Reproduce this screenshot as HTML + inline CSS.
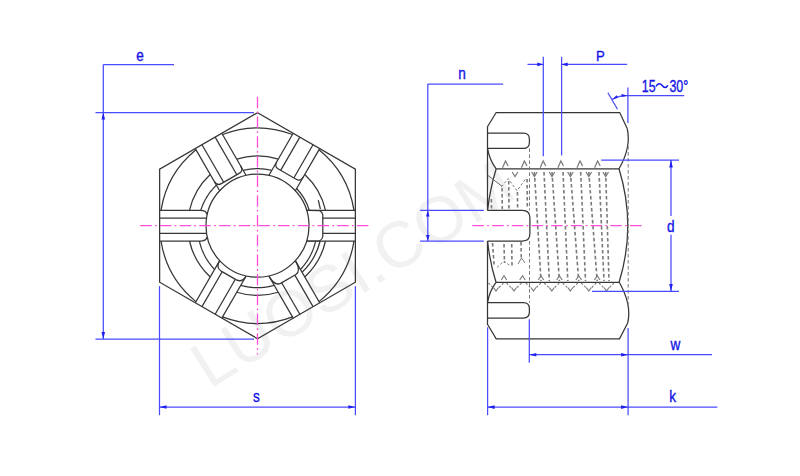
<!DOCTYPE html>
<html><head><meta charset="utf-8"><style>html,body{margin:0;padding:0;background:#fff;width:800px;height:476px;overflow:hidden}svg{display:block}</style></head>
<body><svg width="800" height="476" viewBox="0 0 800 476">
<rect width="800" height="476" fill="#fff"/>
<text x="0" y="0" transform="translate(209.5,389.5) rotate(-32)" font-family="Liberation Sans, sans-serif" font-size="65" fill="#f1f1f1">LUOSI.COM</text>
<path d="M257.50,112.70 L159.64,169.20 L159.64,282.20 L257.50,338.70 L355.36,282.20 L355.36,169.20 Z" stroke="#363636" stroke-width="1.25" fill="none"/>
<path d="M353.99,210.40 A97.70,97.70 0 0 0 319.00,149.78" stroke="#363636" stroke-width="1.25" fill="none" />
<path d="M292.50,134.48 A97.70,97.70 0 0 0 222.50,134.48" stroke="#363636" stroke-width="1.25" fill="none" />
<path d="M196.00,149.78 A97.70,97.70 0 0 0 161.01,210.40" stroke="#363636" stroke-width="1.25" fill="none" />
<path d="M161.01,241.00 A97.70,97.70 0 0 0 196.00,301.62" stroke="#363636" stroke-width="1.25" fill="none" />
<path d="M222.50,316.92 A97.70,97.70 0 0 0 292.50,316.92" stroke="#363636" stroke-width="1.25" fill="none" />
<path d="M319.00,301.62 A97.70,97.70 0 0 0 353.99,241.00" stroke="#363636" stroke-width="1.25" fill="none" />
<circle cx="257.5" cy="225.7" r="51.5" stroke="#363636" stroke-width="1.25" fill="none"/>
<path d="M325.50,210.40 A69.70,69.70 0 0 0 304.75,174.46" stroke="#363636" stroke-width="1.25" fill="none" />
<path d="M278.25,159.16 A69.70,69.70 0 0 0 236.75,159.16" stroke="#363636" stroke-width="1.25" fill="none" />
<path d="M210.25,174.46 A69.70,69.70 0 0 0 189.50,210.40" stroke="#363636" stroke-width="1.25" fill="none" />
<path d="M189.50,241.00 A69.70,69.70 0 0 0 210.25,276.94" stroke="#363636" stroke-width="1.25" fill="none" />
<path d="M236.75,292.24 A69.70,69.70 0 0 0 278.25,292.24" stroke="#363636" stroke-width="1.25" fill="none" />
<path d="M304.75,276.94 A69.70,69.70 0 0 0 325.50,241.00" stroke="#363636" stroke-width="1.25" fill="none" />
<path d="M271.69,170.42 L271.39,170.34 L271.09,170.27 L270.78,170.20 L270.48,170.13 L270.18,170.07 L269.87,170.00 L269.57,169.94 L269.26,169.87 L268.96,169.81 L268.65,169.75 L268.34,169.70 L268.04,169.64 L267.73,169.59 L267.42,169.53 L267.12,169.48 L266.81,169.43 L266.50,169.38 L266.19,169.34 L265.88,169.29 L265.58,169.25 L265.27,169.21 L264.96,169.17 L264.65,169.13 L264.34,169.09 L264.03,169.06 L263.72,169.03 L263.41,168.99 L263.10,168.96 L262.79,168.94 L262.48,168.91 L262.17,168.88 L261.86,168.86 L261.55,168.84 L261.24,168.82 L260.93,168.80 L260.61,168.78 L260.30,168.77 L259.99,168.75 L259.68,168.74 L259.37,168.73 L259.06,168.72 L258.75,168.71 L258.43,168.71 L258.12,168.70 L257.81,168.70 L257.50,168.70 L257.19,168.70 L256.88,168.70 L256.57,168.71 L256.25,168.71 L255.94,168.72 L255.63,168.73 L255.32,168.74 L255.01,168.75 L254.70,168.77 L254.39,168.78 L254.07,168.80 L253.76,168.82 L253.45,168.84 L253.14,168.86 L252.83,168.88 L252.52,168.91 L252.21,168.94 L251.90,168.96 L251.59,168.99 L251.28,169.03 L250.97,169.06 L250.66,169.09 L250.35,169.13 L250.04,169.17 L249.73,169.21 L249.42,169.25 L249.12,169.29 L248.81,169.34 L248.50,169.38 L248.19,169.43 L247.88,169.48 L247.58,169.53 L247.27,169.59 L246.96,169.64 L246.66,169.70 L246.35,169.75 L246.04,169.81 L245.74,169.87 L245.43,169.94 L245.13,170.00 L244.82,170.07 L244.52,170.13 L244.22,170.20 L243.91,170.27 L243.61,170.34 L243.31,170.42" stroke="#363636" stroke-width="1.25" fill="none" />
<path d="M216.32,185.26 L216.09,185.47 L215.87,185.69 L215.65,185.91 L215.43,186.13 L215.21,186.35 L214.99,186.57 L214.77,186.79 L214.56,187.02 L214.34,187.24 L214.13,187.47 L213.91,187.70 L213.70,187.93 L213.49,188.16 L213.28,188.39 L213.08,188.62 L212.87,188.85 L212.66,189.09 L212.46,189.32 L212.26,189.56 L212.05,189.80 L211.85,190.03 L211.65,190.27 L211.46,190.51 L211.26,190.76 L211.06,191.00 L210.87,191.24 L210.68,191.49 L210.49,191.73 L210.30,191.98 L210.11,192.23 L209.92,192.47 L209.73,192.72 L209.55,192.98 L209.36,193.23 L209.18,193.48 L209.00,193.73 L208.82,193.99 L208.64,194.24 L208.46,194.50 L208.29,194.76 L208.11,195.01 L207.94,195.27 L207.77,195.53 L207.60,195.79 L207.43,196.06 L207.26,196.32 L207.10,196.58 L206.93,196.85 L206.77,197.11 L206.61,197.38 L206.45,197.64 L206.29,197.91 L206.13,198.18 L205.97,198.45 L205.82,198.72 L205.66,198.99 L205.51,199.26 L205.36,199.54 L205.21,199.81 L205.06,200.08 L204.92,200.36 L204.77,200.63 L204.63,200.91 L204.49,201.19 L204.34,201.47 L204.21,201.74 L204.07,202.02 L203.93,202.30 L203.80,202.58 L203.66,202.87 L203.53,203.15 L203.40,203.43 L203.27,203.71 L203.14,204.00 L203.02,204.28 L202.89,204.57 L202.77,204.86 L202.65,205.14 L202.53,205.43 L202.41,205.72 L202.29,206.01 L202.18,206.30 L202.06,206.59 L201.95,206.88 L201.84,207.17 L201.73,207.46 L201.62,207.75 L201.52,208.05 L201.41,208.34 L201.31,208.63 L201.21,208.93 L201.11,209.22 L201.01,209.52 L200.91,209.81 L200.82,210.11" stroke="#363636" stroke-width="1.25" fill="none" />
<path d="M199.43,241.18 L199.50,241.48 L199.57,241.79 L199.64,242.09 L199.72,242.39 L199.79,242.70 L199.87,243.00 L199.95,243.30 L200.03,243.60 L200.11,243.90 L200.19,244.20 L200.28,244.50 L200.36,244.80 L200.45,245.10 L200.54,245.40 L200.63,245.70 L200.72,245.99 L200.82,246.29 L200.91,246.59 L201.01,246.88 L201.11,247.18 L201.21,247.47 L201.31,247.77 L201.41,248.06 L201.52,248.35 L201.62,248.65 L201.73,248.94 L201.84,249.23 L201.95,249.52 L202.06,249.81 L202.18,250.10 L202.29,250.39 L202.41,250.68 L202.53,250.97 L202.65,251.26 L202.77,251.54 L202.89,251.83 L203.02,252.12 L203.14,252.40 L203.27,252.69 L203.40,252.97 L203.53,253.25 L203.66,253.53 L203.80,253.82 L203.93,254.10 L204.07,254.38 L204.21,254.66 L204.34,254.93 L204.49,255.21 L204.63,255.49 L204.77,255.77 L204.92,256.04 L205.06,256.32 L205.21,256.59 L205.36,256.86 L205.51,257.14 L205.66,257.41 L205.82,257.68 L205.97,257.95 L206.13,258.22 L206.29,258.49 L206.45,258.76 L206.61,259.02 L206.77,259.29 L206.93,259.55 L207.10,259.82 L207.26,260.08 L207.43,260.34 L207.60,260.61 L207.77,260.87 L207.94,261.13 L208.11,261.39 L208.29,261.64 L208.46,261.90 L208.64,262.16 L208.82,262.41 L209.00,262.67 L209.18,262.92 L209.36,263.17 L209.55,263.42 L209.73,263.68 L209.92,263.93 L210.11,264.17 L210.30,264.42 L210.49,264.67 L210.68,264.91 L210.87,265.16 L211.06,265.40 L211.26,265.64 L211.46,265.89 L211.65,266.13 L211.85,266.37 L212.05,266.60 L212.26,266.84 L212.46,267.08 L212.66,267.31 L212.87,267.55 L213.08,267.78 L213.28,268.01 L213.49,268.24 L213.70,268.47 L213.91,268.70 L214.13,268.93 L214.34,269.16 L214.56,269.38" stroke="#363636" stroke-width="1.25" fill="none" />
<path d="M240.90,285.34 L241.20,285.42 L241.50,285.51 L241.80,285.59 L242.10,285.67 L242.40,285.75 L242.70,285.83 L243.00,285.91 L243.31,285.98 L243.61,286.06 L243.91,286.13 L244.22,286.20 L244.52,286.27 L244.82,286.33 L245.13,286.40 L245.43,286.46 L245.74,286.53 L246.04,286.59 L246.35,286.65 L246.66,286.70 L246.96,286.76 L247.27,286.81 L247.58,286.87 L247.88,286.92 L248.19,286.97 L248.50,287.02 L248.81,287.06 L249.12,287.11 L249.42,287.15 L249.73,287.19 L250.04,287.23 L250.35,287.27 L250.66,287.31 L250.97,287.34 L251.28,287.37 L251.59,287.41 L251.90,287.44 L252.21,287.46 L252.52,287.49 L252.83,287.52 L253.14,287.54 L253.45,287.56 L253.76,287.58 L254.07,287.60 L254.39,287.62 L254.70,287.63 L255.01,287.65 L255.32,287.66 L255.63,287.67 L255.94,287.68 L256.25,287.69 L256.57,287.69 L256.88,287.70 L257.19,287.70 L257.50,287.70 L257.81,287.70 L258.12,287.70 L258.43,287.69 L258.75,287.69 L259.06,287.68 L259.37,287.67 L259.68,287.66 L259.99,287.65 L260.30,287.63 L260.61,287.62 L260.93,287.60 L261.24,287.58 L261.55,287.56 L261.86,287.54 L262.17,287.52 L262.48,287.49 L262.79,287.46 L263.10,287.44 L263.41,287.41 L263.72,287.37 L264.03,287.34 L264.34,287.31 L264.65,287.27 L264.96,287.23 L265.27,287.19 L265.58,287.15 L265.88,287.11 L266.19,287.06 L266.50,287.02 L266.81,286.97 L267.12,286.92 L267.42,286.87 L267.73,286.81 L268.04,286.76 L268.34,286.70 L268.65,286.65 L268.96,286.59 L269.26,286.53 L269.57,286.46 L269.87,286.40 L270.18,286.33 L270.48,286.27 L270.78,286.20 L271.09,286.13 L271.39,286.06 L271.69,285.98 L272.00,285.91 L272.30,285.83 L272.60,285.75 L272.90,285.67 L273.20,285.59 L273.50,285.51 L273.80,285.42 L274.10,285.34" stroke="#363636" stroke-width="1.25" fill="none" />
<path d="M300.44,269.38 L300.66,269.16 L300.87,268.93 L301.09,268.70 L301.30,268.47 L301.51,268.24 L301.72,268.01 L301.92,267.78 L302.13,267.55 L302.34,267.31 L302.54,267.08 L302.74,266.84 L302.95,266.60 L303.15,266.37 L303.35,266.13 L303.54,265.89 L303.74,265.64 L303.94,265.40 L304.13,265.16 L304.32,264.91 L304.51,264.67 L304.70,264.42 L304.89,264.17 L305.08,263.93 L305.27,263.68 L305.45,263.42 L305.64,263.17 L305.82,262.92 L306.00,262.67 L306.18,262.41 L306.36,262.16 L306.54,261.90 L306.71,261.64 L306.89,261.39 L307.06,261.13 L307.23,260.87 L307.40,260.61 L307.57,260.34 L307.74,260.08 L307.90,259.82 L308.07,259.55 L308.23,259.29 L308.39,259.02 L308.55,258.76 L308.71,258.49 L308.87,258.22 L309.03,257.95 L309.18,257.68 L309.34,257.41 L309.49,257.14 L309.64,256.86 L309.79,256.59 L309.94,256.32 L310.08,256.04 L310.23,255.77 L310.37,255.49 L310.51,255.21 L310.66,254.93 L310.79,254.66 L310.93,254.38 L311.07,254.10 L311.20,253.82 L311.34,253.53 L311.47,253.25 L311.60,252.97 L311.73,252.69 L311.86,252.40 L311.98,252.12 L312.11,251.83 L312.23,251.54 L312.35,251.26 L312.47,250.97 L312.59,250.68 L312.71,250.39 L312.82,250.10 L312.94,249.81 L313.05,249.52 L313.16,249.23 L313.27,248.94 L313.38,248.65 L313.48,248.35 L313.59,248.06 L313.69,247.77 L313.79,247.47 L313.89,247.18 L313.99,246.88 L314.09,246.59 L314.18,246.29 L314.28,245.99 L314.37,245.70 L314.46,245.40 L314.55,245.10 L314.64,244.80 L314.72,244.50 L314.81,244.20 L314.89,243.90 L314.97,243.60 L315.05,243.30 L315.13,243.00 L315.21,242.70 L315.28,242.39 L315.36,242.09 L315.43,241.79 L315.50,241.48 L315.57,241.18" stroke="#363636" stroke-width="1.25" fill="none" />
<path d="M309.29,210.40 A54.00,54.00 0 0 0 296.64,188.50" stroke="#363636" stroke-width="1.25" fill="none" />
<path d="M302.08,272.31 A64.50,64.50 0 0 0 320.16,241.00" stroke="#363636" stroke-width="1.25" fill="none" />
<line x1="318.30" y1="200.20" x2="320.40" y2="209.10" stroke="#363636" stroke-width="1.25" />
<line x1="221.82" y1="318.10" x2="246.16" y2="275.94" stroke="#363636" stroke-width="1.25" />
<line x1="195.32" y1="302.80" x2="219.66" y2="260.64" stroke="#363636" stroke-width="1.25" />
<line x1="215.15" y1="314.25" x2="235.33" y2="279.30" stroke="#363636" stroke-width="1.25" />
<line x1="201.99" y1="306.65" x2="222.17" y2="271.70" stroke="#363636" stroke-width="1.25" />
<path d="M245.91,276.37 Q242.25,282.71 236.37,279.90 L221.13,271.10 Q215.75,267.41 219.41,261.07" stroke="#363636" stroke-width="1.25" fill="none" />
<line x1="319.68" y1="302.80" x2="295.34" y2="260.64" stroke="#363636" stroke-width="1.25" />
<line x1="293.18" y1="318.10" x2="268.84" y2="275.94" stroke="#363636" stroke-width="1.25" />
<line x1="313.01" y1="306.65" x2="294.83" y2="275.16" stroke="#363636" stroke-width="1.25" />
<line x1="299.85" y1="314.25" x2="281.67" y2="282.76" stroke="#363636" stroke-width="1.25" />
<path d="M295.59,261.07 Q301.25,270.88 295.87,274.56 L280.63,283.36 Q274.75,286.18 269.09,276.37" stroke="#363636" stroke-width="1.25" fill="none" />
<line x1="293.18" y1="133.30" x2="268.84" y2="175.46" stroke="#363636" stroke-width="1.25" />
<line x1="319.68" y1="148.60" x2="295.34" y2="190.76" stroke="#363636" stroke-width="1.25" />
<line x1="299.85" y1="137.15" x2="280.67" y2="170.37" stroke="#363636" stroke-width="1.25" />
<line x1="313.01" y1="144.75" x2="293.83" y2="177.97" stroke="#363636" stroke-width="1.25" />
<path d="M276.75,161.76 Q274.00,166.52 278.33,169.02 L296.17,179.32 Q300.50,181.82 303.25,177.06" stroke="#363636" stroke-width="1.25" fill="none" />
<line x1="195.32" y1="148.60" x2="219.66" y2="190.76" stroke="#363636" stroke-width="1.25" />
<line x1="221.82" y1="133.30" x2="246.16" y2="175.46" stroke="#363636" stroke-width="1.25" />
<line x1="201.99" y1="144.75" x2="223.67" y2="182.30" stroke="#363636" stroke-width="1.25" />
<line x1="215.15" y1="137.15" x2="236.83" y2="174.70" stroke="#363636" stroke-width="1.25" />
<path d="M214.25,181.39 Q217.00,186.15 221.33,183.65 L239.17,173.35 Q243.50,170.85 240.75,166.09" stroke="#363636" stroke-width="1.25" fill="none" />
<line x1="159.64" y1="241.00" x2="200.00" y2="241.00" stroke="#363636" stroke-width="1.25" />
<path d="M200.00,241.00 Q206.26,241.00 206.96,237.02" stroke="#363636" stroke-width="1.25" fill="none" />
<line x1="159.64" y1="210.40" x2="200.00" y2="210.40" stroke="#363636" stroke-width="1.25" />
<path d="M200.00,210.40 Q206.26,210.40 206.96,214.38" stroke="#363636" stroke-width="1.25" fill="none" />
<line x1="159.64" y1="233.30" x2="206.56" y2="233.30" stroke="#363636" stroke-width="1.25" />
<line x1="159.64" y1="218.10" x2="206.56" y2="218.10" stroke="#363636" stroke-width="1.25" />
<line x1="355.36" y1="210.40" x2="306.67" y2="210.40" stroke="#363636" stroke-width="1.25" />
<line x1="355.36" y1="241.00" x2="306.67" y2="241.00" stroke="#363636" stroke-width="1.25" />
<line x1="355.36" y1="218.10" x2="322.80" y2="218.10" stroke="#363636" stroke-width="1.25" />
<line x1="355.36" y1="233.30" x2="322.80" y2="233.30" stroke="#363636" stroke-width="1.25" />
<path d="M306.67,210.40 L319.70,210.60 Q322.30,211.90 322.80,214.90 L322.80,236.50 Q322.30,239.50 319.70,240.80 L306.67,241.00" stroke="#363636" stroke-width="1.25" fill="none" />
<line x1="140.20" y1="225.70" x2="370.00" y2="225.70" stroke="#ff4fd8" stroke-width="1.3" stroke-dasharray="11.5,3.2,1.8,3.2"/>
<line x1="257.50" y1="96.80" x2="257.50" y2="354.50" stroke="#ff4fd8" stroke-width="1.3" stroke-dasharray="11.5,3.2,1.8,3.2"/>
<line x1="103.30" y1="64.60" x2="174.00" y2="64.60" stroke="#4a4aff" stroke-width="1.25" />
<line x1="103.30" y1="64.60" x2="103.30" y2="339.00" stroke="#4a4aff" stroke-width="1.25" />
<line x1="95.50" y1="112.50" x2="254.00" y2="112.50" stroke="#4a4aff" stroke-width="1.25" />
<line x1="95.50" y1="339.00" x2="254.00" y2="339.00" stroke="#4a4aff" stroke-width="1.25" />
<path d="M103.30,112.50 L105.10,119.50 L101.50,119.50 Z" fill="#2020f0"/>
<path d="M103.30,339.00 L101.50,332.00 L105.10,332.00 Z" fill="#2020f0"/>
<line x1="159.50" y1="286.10" x2="159.50" y2="415.20" stroke="#4a4aff" stroke-width="1.25" />
<line x1="355.40" y1="286.10" x2="355.40" y2="415.20" stroke="#4a4aff" stroke-width="1.25" />
<line x1="159.50" y1="407.00" x2="355.40" y2="407.00" stroke="#4a4aff" stroke-width="1.25" />
<path d="M159.50,407.00 L166.50,405.20 L166.50,408.80 Z" fill="#2020f0"/>
<path d="M355.40,407.00 L348.40,408.80 L348.40,405.20 Z" fill="#2020f0"/>
<path d="M487.30,127.00 L496.20,112.50 L619.70,112.50 L627.20,128.50" stroke="#363636" stroke-width="1.25" fill="none" />
<path d="M487.30,324.00 L496.20,338.90 L619.50,338.90 L627.70,323.00" stroke="#363636" stroke-width="1.25" fill="none" />
<line x1="487.50" y1="127.00" x2="487.50" y2="210.30" stroke="#363636" stroke-width="1.25" />
<line x1="487.50" y1="241.00" x2="487.50" y2="324.00" stroke="#363636" stroke-width="1.25" />
<path d="M487.50,133.10 L523.40,133.10 Q529.40,133.10 529.40,139.10 L529.40,142.40 Q529.40,148.40 523.40,148.40 L487.50,148.40" stroke="#363636" stroke-width="1.25" fill="none" />
<path d="M487.50,210.30 L522.40,210.30 Q529.90,210.30 529.90,217.80 L529.90,233.50 Q529.90,241.00 522.40,241.00 L487.50,241.00" stroke="#363636" stroke-width="1.25" fill="none" />
<path d="M487.50,302.60 L523.40,302.60 Q529.40,302.60 529.40,308.60 L529.40,312.00 Q529.40,318.00 523.40,318.00 L487.50,318.00" stroke="#363636" stroke-width="1.25" fill="none" />
<line x1="496.20" y1="168.80" x2="619.00" y2="168.80" stroke="#363636" stroke-width="1.25" />
<line x1="496.00" y1="282.30" x2="619.30" y2="282.30" stroke="#363636" stroke-width="1.25" />
<path d="M487.50,148.40 Q489.50,160.00 496.20,168.80" stroke="#363636" stroke-width="1.25" fill="none" />
<path d="M496.20,168.80 Q490.30,188.00 487.50,210.30" stroke="#363636" stroke-width="1.25" fill="none" />
<path d="M487.50,241.00 Q490.00,263.00 496.00,282.30" stroke="#363636" stroke-width="1.25" fill="none" />
<path d="M496.00,282.30 Q489.50,291.00 487.50,302.60" stroke="#363636" stroke-width="1.25" fill="none" />
<path d="M627.20,128.50 Q631.50,147.00 619.00,168.80" stroke="#363636" stroke-width="1.25" fill="none" />
<path d="M619.00,168.80 Q636.50,225.60 619.10,282.30" stroke="#363636" stroke-width="1.25" fill="none" />
<path d="M619.30,282.30 Q632.00,305.00 627.70,323.00" stroke="#363636" stroke-width="1.25" fill="none" />
<line x1="487.50" y1="175.10" x2="501.90" y2="186.20" stroke="#555" stroke-width="0.9" />
<line x1="529.50" y1="148.40" x2="529.50" y2="210.30" stroke="#7a7a7a" stroke-width="1" stroke-dasharray="3.6,2.4"/>
<line x1="529.50" y1="241.00" x2="529.50" y2="302.60" stroke="#7a7a7a" stroke-width="1" stroke-dasharray="3.6,2.4"/>
<line x1="628.20" y1="146.00" x2="628.20" y2="306.00" stroke="#7a7a7a" stroke-width="1" stroke-dasharray="3.6,2.4"/>
<line x1="534.40" y1="172.00" x2="541.00" y2="281.00" stroke="#7a7a7a" stroke-width="1.6" stroke-dasharray="3.6,2.4"/>
<line x1="544.00" y1="172.00" x2="549.30" y2="281.00" stroke="#7a7a7a" stroke-width="1.6" stroke-dasharray="3.6,2.4"/>
<line x1="552.00" y1="172.00" x2="559.40" y2="281.00" stroke="#7a7a7a" stroke-width="1.6" stroke-dasharray="3.6,2.4"/>
<line x1="563.00" y1="172.00" x2="567.80" y2="281.00" stroke="#7a7a7a" stroke-width="1.6" stroke-dasharray="3.6,2.4"/>
<line x1="570.40" y1="172.00" x2="578.70" y2="281.00" stroke="#7a7a7a" stroke-width="1.6" stroke-dasharray="3.6,2.4"/>
<line x1="580.70" y1="172.00" x2="585.50" y2="281.00" stroke="#7a7a7a" stroke-width="1.6" stroke-dasharray="3.6,2.4"/>
<line x1="588.80" y1="172.00" x2="597.20" y2="281.00" stroke="#7a7a7a" stroke-width="1.6" stroke-dasharray="3.6,2.4"/>
<line x1="599.00" y1="172.00" x2="604.00" y2="281.00" stroke="#7a7a7a" stroke-width="1.6" stroke-dasharray="3.6,2.4"/>
<line x1="605.70" y1="172.00" x2="609.00" y2="281.00" stroke="#7a7a7a" stroke-width="1.6" stroke-dasharray="3.6,2.4"/>
<line x1="491.30" y1="199.00" x2="491.50" y2="209.00" stroke="#7a7a7a" stroke-width="1.6" stroke-dasharray="3.6,2.4"/>
<line x1="502.00" y1="188.00" x2="502.30" y2="209.00" stroke="#7a7a7a" stroke-width="1.6" stroke-dasharray="3.6,2.4"/>
<line x1="508.70" y1="181.00" x2="509.00" y2="209.00" stroke="#7a7a7a" stroke-width="1.6" stroke-dasharray="3.6,2.4"/>
<line x1="517.40" y1="192.00" x2="517.60" y2="208.00" stroke="#7a7a7a" stroke-width="1.6" stroke-dasharray="3.6,2.4"/>
<line x1="527.10" y1="179.00" x2="527.30" y2="209.00" stroke="#7a7a7a" stroke-width="1.6" stroke-dasharray="3.6,2.4"/>
<line x1="492.50" y1="243.00" x2="494.20" y2="266.00" stroke="#7a7a7a" stroke-width="1.6" stroke-dasharray="3.6,2.4"/>
<line x1="504.00" y1="244.00" x2="504.50" y2="263.00" stroke="#7a7a7a" stroke-width="1.6" stroke-dasharray="3.6,2.4"/>
<line x1="511.70" y1="244.00" x2="512.00" y2="267.00" stroke="#7a7a7a" stroke-width="1.6" stroke-dasharray="3.6,2.4"/>
<line x1="521.00" y1="242.00" x2="521.30" y2="259.00" stroke="#7a7a7a" stroke-width="1.6" stroke-dasharray="3.6,2.4"/>
<path d="M501.50,186.80 L508.20,178.60 L517.00,190.70 L526.60,177.60" stroke="#7a7a7a" stroke-width="1.0" fill="none" stroke-dasharray="2.6,2"/>
<path d="M497.00,267.50 L504.00,261.00 L511.00,266.50" stroke="#7a7a7a" stroke-width="1.0" fill="none" stroke-dasharray="2.6,2"/>
<path d="M518.00,264.00 L521.50,258.00 L525.00,263.00" stroke="#7a7a7a" stroke-width="1.0" fill="none" />
<path d="M502.50,167.80 L505.50,161.00 L508.10,166.00" stroke="#7a7a7a" stroke-width="1.2" fill="none" />
<path d="M521.40,167.80 L524.40,161.00 L527.00,166.00" stroke="#7a7a7a" stroke-width="1.2" fill="none" />
<path d="M540.20,167.80 L543.20,161.00 L545.80,166.00" stroke="#7a7a7a" stroke-width="1.2" fill="none" />
<path d="M557.90,167.80 L560.90,161.00 L563.50,166.00" stroke="#7a7a7a" stroke-width="1.2" fill="none" />
<path d="M577.00,167.80 L580.00,161.00 L582.60,166.00" stroke="#7a7a7a" stroke-width="1.2" fill="none" />
<path d="M594.60,167.80 L597.60,161.00 L600.20,166.00" stroke="#7a7a7a" stroke-width="1.2" fill="none" />
<path d="M512.20,172.00 L515.00,176.50 L517.80,172.00" stroke="#7a7a7a" stroke-width="1.2" fill="none" />
<path d="M531.60,172.00 L534.40,176.50 L537.20,172.00" stroke="#7a7a7a" stroke-width="1.2" fill="none" />
<path d="M549.20,172.00 L552.00,176.50 L554.80,172.00" stroke="#7a7a7a" stroke-width="1.2" fill="none" />
<path d="M567.60,172.00 L570.40,176.50 L573.20,172.00" stroke="#7a7a7a" stroke-width="1.2" fill="none" />
<path d="M586.00,172.00 L588.80,176.50 L591.60,172.00" stroke="#7a7a7a" stroke-width="1.2" fill="none" />
<path d="M602.90,172.00 L605.70,176.50 L608.50,172.00" stroke="#7a7a7a" stroke-width="1.2" fill="none" />
<path d="M501.20,280.00 L504.00,275.80 L506.80,280.00" stroke="#7a7a7a" stroke-width="1.15" fill="none" />
<path d="M519.70,280.00 L522.50,275.80 L525.30,280.00" stroke="#7a7a7a" stroke-width="1.15" fill="none" />
<path d="M538.20,280.00 L541.00,275.80 L543.80,280.00" stroke="#7a7a7a" stroke-width="1.15" fill="none" />
<path d="M556.60,280.00 L559.40,275.80 L562.20,280.00" stroke="#7a7a7a" stroke-width="1.15" fill="none" />
<path d="M575.90,280.00 L578.70,275.80 L581.50,280.00" stroke="#7a7a7a" stroke-width="1.15" fill="none" />
<path d="M594.40,280.00 L597.20,275.80 L600.00,280.00" stroke="#7a7a7a" stroke-width="1.15" fill="none" />
<path d="M493.50,287.50 L496.00,291.00 L498.50,287.50" stroke="#7a7a7a" stroke-width="1.2" fill="none" />
<path d="M488.50,283.00 L493.00,287.50" stroke="#7a7a7a" stroke-width="1.1" fill="none" stroke-dasharray="2.2,1.8"/>
<path d="M499.00,287.50 L503.50,283.00" stroke="#7a7a7a" stroke-width="1.1" fill="none" stroke-dasharray="2.2,1.8"/>
<path d="M511.50,287.50 L514.00,291.00 L516.50,287.50" stroke="#7a7a7a" stroke-width="1.2" fill="none" />
<path d="M506.50,283.00 L511.00,287.50" stroke="#7a7a7a" stroke-width="1.1" fill="none" stroke-dasharray="2.2,1.8"/>
<path d="M517.00,287.50 L521.50,283.00" stroke="#7a7a7a" stroke-width="1.1" fill="none" stroke-dasharray="2.2,1.8"/>
<path d="M530.90,287.50 L533.40,291.00 L535.90,287.50" stroke="#7a7a7a" stroke-width="1.2" fill="none" />
<path d="M525.90,283.00 L530.40,287.50" stroke="#7a7a7a" stroke-width="1.1" fill="none" stroke-dasharray="2.2,1.8"/>
<path d="M536.40,287.50 L540.90,283.00" stroke="#7a7a7a" stroke-width="1.1" fill="none" stroke-dasharray="2.2,1.8"/>
<path d="M549.30,287.50 L551.80,291.00 L554.30,287.50" stroke="#7a7a7a" stroke-width="1.2" fill="none" />
<path d="M544.30,283.00 L548.80,287.50" stroke="#7a7a7a" stroke-width="1.1" fill="none" stroke-dasharray="2.2,1.8"/>
<path d="M554.80,287.50 L559.30,283.00" stroke="#7a7a7a" stroke-width="1.1" fill="none" stroke-dasharray="2.2,1.8"/>
<path d="M567.80,287.50 L570.30,291.00 L572.80,287.50" stroke="#7a7a7a" stroke-width="1.2" fill="none" />
<path d="M562.80,283.00 L567.30,287.50" stroke="#7a7a7a" stroke-width="1.1" fill="none" stroke-dasharray="2.2,1.8"/>
<path d="M573.30,287.50 L577.80,283.00" stroke="#7a7a7a" stroke-width="1.1" fill="none" stroke-dasharray="2.2,1.8"/>
<path d="M586.30,287.50 L588.80,291.00 L591.30,287.50" stroke="#7a7a7a" stroke-width="1.2" fill="none" />
<path d="M581.30,283.00 L585.80,287.50" stroke="#7a7a7a" stroke-width="1.1" fill="none" stroke-dasharray="2.2,1.8"/>
<path d="M591.80,287.50 L596.30,283.00" stroke="#7a7a7a" stroke-width="1.1" fill="none" stroke-dasharray="2.2,1.8"/>
<path d="M604.00,287.50 L606.50,291.00 L609.00,287.50" stroke="#7a7a7a" stroke-width="1.2" fill="none" />
<path d="M599.00,283.00 L603.50,287.50" stroke="#7a7a7a" stroke-width="1.1" fill="none" stroke-dasharray="2.2,1.8"/>
<path d="M609.50,287.50 L614.00,283.00" stroke="#7a7a7a" stroke-width="1.1" fill="none" stroke-dasharray="2.2,1.8"/>
<line x1="472.40" y1="225.70" x2="644.00" y2="225.70" stroke="#ff4fd8" stroke-width="1.3" stroke-dasharray="11.5,3.2,1.8,3.2"/>
<line x1="427.80" y1="84.10" x2="503.10" y2="84.10" stroke="#4a4aff" stroke-width="1.25" />
<line x1="427.80" y1="84.10" x2="427.80" y2="241.00" stroke="#4a4aff" stroke-width="1.25" />
<line x1="420.10" y1="210.40" x2="483.80" y2="210.40" stroke="#4a4aff" stroke-width="1.25" />
<line x1="420.10" y1="241.00" x2="483.80" y2="241.00" stroke="#4a4aff" stroke-width="1.25" />
<path d="M427.80,210.40 L429.60,216.40 L426.00,216.40 Z" fill="#2020f0"/>
<path d="M427.80,241.00 L426.00,235.00 L429.60,235.00 Z" fill="#2020f0"/>
<line x1="543.30" y1="56.80" x2="543.30" y2="156.30" stroke="#4a4aff" stroke-width="1.25" />
<line x1="561.60" y1="56.80" x2="561.60" y2="155.40" stroke="#4a4aff" stroke-width="1.25" />
<line x1="527.50" y1="64.40" x2="543.30" y2="64.40" stroke="#4a4aff" stroke-width="1.25" />
<line x1="561.60" y1="64.40" x2="627.20" y2="64.40" stroke="#4a4aff" stroke-width="1.25" />
<path d="M543.30,64.40 L537.30,66.20 L537.30,62.60 Z" fill="#2020f0"/>
<path d="M561.60,64.40 L567.60,62.60 L567.60,66.20 Z" fill="#2020f0"/>
<line x1="627.90" y1="87.60" x2="627.90" y2="123.00" stroke="#4a4aff" stroke-width="1.25" />
<line x1="627.90" y1="95.70" x2="684.20" y2="95.70" stroke="#4a4aff" stroke-width="1.25" />
<line x1="607.90" y1="92.70" x2="617.50" y2="109.20" stroke="#4a4aff" stroke-width="1.25" />
<path d="M627.90,95.70 Q619.00,95.20 612.20,99.50" stroke="#4a4aff" stroke-width="1.25" fill="none" />
<path d="M612.20,99.50 L616.57,95.13 L618.12,97.70 Z" fill="#2020f0"/>
<path d="M627.60,95.70 L621.53,96.90 L621.68,93.90 Z" fill="#2020f0"/>
<line x1="601.20" y1="160.10" x2="679.00" y2="160.10" stroke="#4a4aff" stroke-width="1.25" />
<line x1="592.00" y1="291.40" x2="679.00" y2="291.40" stroke="#4a4aff" stroke-width="1.25" />
<line x1="671.00" y1="160.10" x2="671.00" y2="215.90" stroke="#4a4aff" stroke-width="1.25" />
<line x1="671.00" y1="234.80" x2="671.00" y2="291.40" stroke="#4a4aff" stroke-width="1.25" />
<path d="M671.00,160.10 L672.80,167.60 L669.20,167.60 Z" fill="#2020f0"/>
<path d="M671.00,291.40 L669.20,283.90 L672.80,283.90 Z" fill="#2020f0"/>
<line x1="487.60" y1="327.30" x2="487.60" y2="415.20" stroke="#4a4aff" stroke-width="1.25" />
<line x1="529.30" y1="319.20" x2="529.30" y2="362.70" stroke="#4a4aff" stroke-width="1.25" />
<line x1="628.10" y1="327.90" x2="628.10" y2="415.20" stroke="#4a4aff" stroke-width="1.25" />
<line x1="529.30" y1="354.70" x2="712.00" y2="354.70" stroke="#4a4aff" stroke-width="1.25" />
<line x1="487.60" y1="407.10" x2="717.40" y2="407.10" stroke="#4a4aff" stroke-width="1.25" />
<path d="M529.30,354.70 L536.30,352.90 L536.30,356.50 Z" fill="#2020f0"/>
<path d="M628.10,354.70 L621.10,356.50 L621.10,352.90 Z" fill="#2020f0"/>
<path d="M487.60,407.10 L494.60,405.30 L494.60,408.90 Z" fill="#2020f0"/>
<path d="M628.10,407.10 L621.10,408.90 L621.10,405.30 Z" fill="#2020f0"/>
<text transform="translate(140.1,60.8) scale(0.85,1)" font-family="Liberation Sans, sans-serif" font-size="16" fill="#1414e6" stroke="#1414e6" stroke-width="0.35" text-anchor="middle">e</text>
<text transform="translate(256.4,402.3) scale(0.85,1)" font-family="Liberation Sans, sans-serif" font-size="16" fill="#1414e6" stroke="#1414e6" stroke-width="0.35" text-anchor="middle">s</text>
<text transform="translate(462.1,78.8) scale(0.85,1)" font-family="Liberation Sans, sans-serif" font-size="16" fill="#1414e6" stroke="#1414e6" stroke-width="0.35" text-anchor="middle">n</text>
<text transform="translate(600.4,60.5) scale(0.85,1)" font-family="Liberation Sans, sans-serif" font-size="15.5" fill="#1414e6" stroke="#1414e6" stroke-width="0.35" text-anchor="middle">P</text>
<text transform="translate(670.8,231.5) scale(0.85,1)" font-family="Liberation Sans, sans-serif" font-size="16" fill="#1414e6" stroke="#1414e6" stroke-width="0.35" text-anchor="middle">d</text>
<text transform="translate(675.4,349.9) scale(0.85,1)" font-family="Liberation Sans, sans-serif" font-size="16" fill="#1414e6" stroke="#1414e6" stroke-width="0.35" text-anchor="middle">w</text>
<text transform="translate(672.6,402.4) scale(0.85,1)" font-family="Liberation Sans, sans-serif" font-size="16" fill="#1414e6" stroke="#1414e6" stroke-width="0.35" text-anchor="middle">k</text>
<text transform="translate(641.8,92.2) scale(0.79,1)" font-family="Liberation Sans, sans-serif" font-size="15.7" fill="#1414e6" stroke="#1414e6" stroke-width="0.35">15</text>
<path d="M656,86.5 C657.6,83.2 660.2,82.8 662.2,85.5 C664.2,88.2 666.5,88.2 667.8,85.2" stroke="#1414e6" stroke-width="1.5" fill="none"/>
<text transform="translate(669.4,92.2) scale(0.79,1)" font-family="Liberation Sans, sans-serif" font-size="15.7" fill="#1414e6" stroke="#1414e6" stroke-width="0.35">30°</text>
</svg></body></html>
